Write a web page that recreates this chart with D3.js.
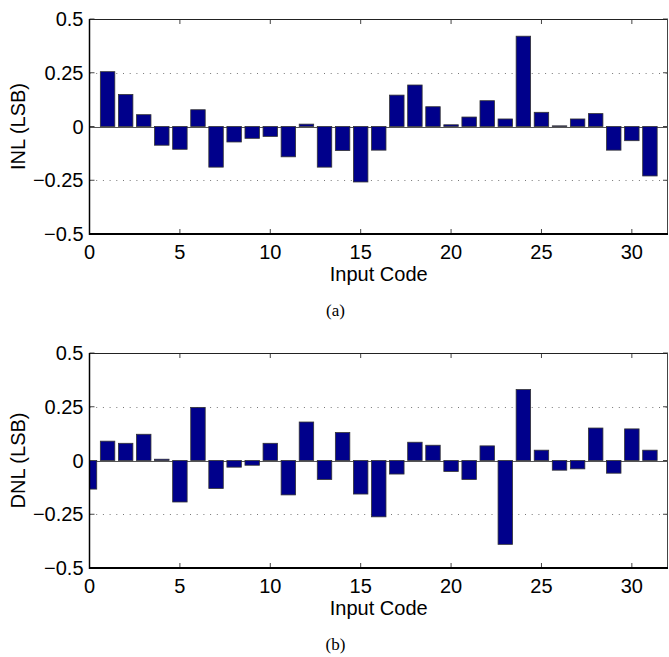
<!DOCTYPE html>
<html>
<head>
<meta charset="utf-8">
<script src="https://d3js.org/d3.v7.min.js"></script>
<style>
body { margin: 0; background: white; }
text { font-family: "Liberation Sans", Arial, sans-serif; fill: black; }
.caption { font-family: "Liberation Serif", "Times New Roman", serif; }
</style>
</head>
<body>
<div id="dataviz"></div>
<script>

// data
var inputCodes = [0,1,2,3,4,5,6,7,8,9,10,11,12,13,14,15,16,17,18,19,20,21,22,23,24,25,26,27,28,29,30,31];
var inlValues = [0, 0.255, 0.149, 0.055, -0.087, -0.106, 0.078, -0.189, -0.072, -0.055, -0.046, -0.141, 0.011, -0.189, -0.112, -0.258,
                 -0.110, 0.146, 0.193, 0.092, 0.008, 0.044, 0.120, 0.035, 0.420, 0.066, 0.003, 0.035, 0.060, -0.110, -0.066, -0.230];
var dnlValues = [-0.133, 0.090, 0.080, 0.122, 0.006, -0.193, 0.247, -0.130, -0.031, -0.022, 0.080, -0.160, 0.179, -0.088, 0.130, -0.156,
                 -0.262, -0.063, 0.085, 0.071, -0.051, -0.088, 0.068, -0.390, 0.330, 0.048, -0.045, -0.039, 0.151, -0.059, 0.147, 0.048];
var xTicks = [0, 5, 10, 15, 20, 25, 30];
var yTicks = [-0.5, -0.25, 0, 0.25, 0.5];
var yTickLabels = ["\u22120.5", "\u22120.25", "0", "0.25", "0.5"];

var width = 669, height = 657;
var left = 89.5, right = 668;
var plotH = 215;
var fontSize = "20px";

var svg = d3.select("#dataviz")
  .append("svg")
  .attr("width", width)
  .attr("height", height);

var xscale = d3.scaleLinear().domain([0, 32]).range([left, right]);

function drawPanel(top, values, ylabel, caption, id) {
  var bottom = top + plotH;
  var yscale = d3.scaleLinear().domain([-0.5, 0.5]).range([bottom, top]);
  var g = svg.append("g");

  // clip so the bar at code 0 is cut by the axis
  svg.append("clipPath").attr("id", id)
    .append("rect")
    .attr("x", left).attr("y", top)
    .attr("width", right - left).attr("height", plotH);

  // dotted grid
  g.selectAll(".grid").data([-0.25, 0.25]).enter()
    .append("line")
    .attr("x1", left).attr("x2", right)
    .attr("y1", function(d){ return Math.round(yscale(d)) + 0.5; })
    .attr("y2", function(d){ return Math.round(yscale(d)) + 0.5; })
    .attr("stroke", "#777")
    .attr("stroke-width", 1)
    .attr("stroke-dasharray", "1,5.7");

  // baseline
  g.append("line")
    .attr("x1", left).attr("x2", right)
    .attr("y1", Math.round(yscale(0)) + 0.5)
    .attr("y2", Math.round(yscale(0)) + 0.5)
    .attr("stroke", "#555")
    .attr("stroke-width", 1);

  // bars
  g.append("g").attr("clip-path", "url(#" + id + ")")
    .selectAll("rect").data(values).enter()
    .append("rect")
    .attr("x", function(d, i){ return xscale(inputCodes[i] - 0.4); })
    .attr("width", xscale(0.8) - xscale(0))
    .attr("y", function(d){ return yscale(Math.max(0, d)); })
    .attr("height", function(d){ return Math.abs(yscale(d) - yscale(0)); })
    .style("fill", "#00008b")
    .style("stroke", "#333")
    .style("stroke-width", 0.8);

  // ticks inside the box, all four sides
  xTicks.forEach(function(t) {
    g.append("line").attr("x1", xscale(t)).attr("x2", xscale(t))
      .attr("y1", bottom).attr("y2", bottom - 5).attr("stroke", "#444");
    g.append("line").attr("x1", xscale(t)).attr("x2", xscale(t))
      .attr("y1", top).attr("y2", top + 5).attr("stroke", "#444");
    g.append("text")
      .attr("x", xscale(t)).attr("y", bottom + 25)
      .style("text-anchor", "middle")
      .style("font-size", fontSize)
      .text(t);
  });
  yTicks.forEach(function(t, i) {
    g.append("line").attr("x1", left).attr("x2", left + 5)
      .attr("y1", yscale(t)).attr("y2", yscale(t)).attr("stroke", "#444");
    g.append("line").attr("x1", right).attr("x2", right - 5)
      .attr("y1", yscale(t)).attr("y2", yscale(t)).attr("stroke", "#444");
    g.append("text")
      .attr("x", left - 6).attr("y", yscale(t))
      .attr("dy", "0.36em")
      .style("text-anchor", "end")
      .style("font-size", fontSize)
      .text(yTickLabels[i]);
  });

  // box
  g.append("line").attr("x1", left).attr("x2", right).attr("y1", top + 0.5).attr("y2", top + 0.5)
    .attr("stroke", "#222").attr("stroke-width", 1);
  g.append("line").attr("x1", right - 0.5).attr("x2", right - 0.5).attr("y1", top).attr("y2", bottom)
    .attr("stroke", "#444").attr("stroke-width", 1);
  g.append("line").attr("x1", left).attr("x2", left).attr("y1", top).attr("y2", bottom + 1)
    .attr("stroke", "black").attr("stroke-width", 1.5);
  g.append("line").attr("x1", left - 0.5).attr("x2", right).attr("y1", bottom).attr("y2", bottom)
    .attr("stroke", "black").attr("stroke-width", 2);

  // axis labels
  g.append("text")
    .attr("x", (left + right) / 2).attr("y", bottom + 47)
    .style("text-anchor", "middle")
    .style("font-size", fontSize)
    .text("Input Code");

  g.append("text")
    .attr("transform", "translate(25," + (top + plotH / 2) + ") rotate(-90)")
    .style("text-anchor", "middle")
    .style("font-size", fontSize)
    .text(ylabel);

  g.append("text")
    .attr("class", "caption")
    .attr("x", 335.5).attr("y", bottom + 82)
    .style("text-anchor", "middle")
    .style("font-size", "17px")
    .text(caption);
}

drawPanel(19, inlValues, "INL (LSB)", "(a)", "clipA");
drawPanel(353, dnlValues, "DNL (LSB)", "(b)", "clipB");

</script>
</body>
</html>
